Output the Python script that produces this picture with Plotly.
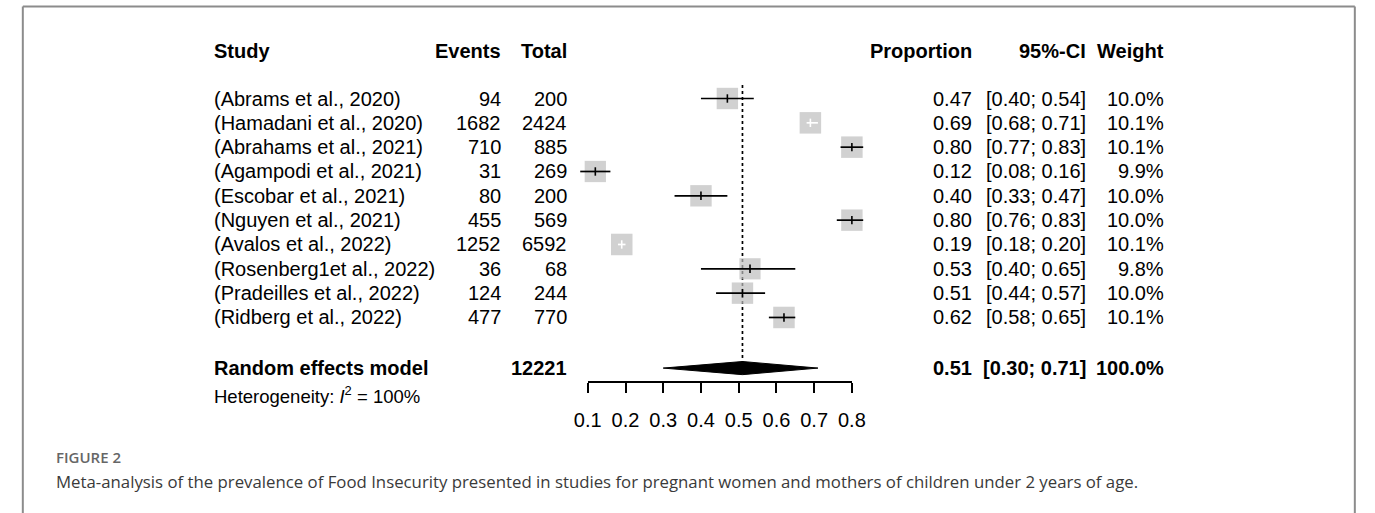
import plotly.graph_objects as go
import math

# ---------------- data ----------------
studies = ["(Abrams et al., 2020)", "(Hamadani et al., 2020)", "(Abrahams et al., 2021)",
           "(Agampodi et al., 2021)", "(Escobar et al., 2021)", "(Nguyen et al., 2021)",
           "(Avalos et al., 2022)", "(Rosenberg1et al., 2022)", "(Pradeilles et al., 2022)",
           "(Ridberg et al., 2022)"]
events = [94, 1682, 710, 31, 80, 455, 1252, 36, 124, 477]
totals = [200, 2424, 885, 269, 200, 569, 6592, 68, 244, 770]
proportion = [0.47, 0.69, 0.80, 0.12, 0.40, 0.80, 0.19, 0.53, 0.51, 0.62]
ci_low = [0.40, 0.68, 0.77, 0.08, 0.33, 0.76, 0.18, 0.40, 0.44, 0.58]
ci_high = [0.54, 0.71, 0.83, 0.16, 0.47, 0.83, 0.20, 0.65, 0.57, 0.65]
weights = [10.0, 10.1, 10.1, 9.9, 10.0, 10.0, 10.1, 9.8, 10.0, 10.1]

pooled_total = 12221
pooled_prop = 0.51
pooled_low = 0.30
pooled_high = 0.71
pooled_weight = 100.0
i2 = 100

tick_vals = [0.1, 0.2, 0.3, 0.4, 0.5, 0.6, 0.7, 0.8]
tick_text = ["0.1", "0.2", "0.3", "0.4", "0.5", "0.6", "0.7", "0.8"]

caption_label = "FIGURE 2"
caption_text = ("Meta-analysis of the prevalence of Food Insecurity presented in studies for "
                "pregnant women and mothers of children under 2 years of age.")

# ---------------- layout geometry ----------------
W, H = 1375, 513
AX_L, AX_R = 585.7, 855.3            # pixel of first / last tick
PPU = (AX_R - AX_L) / (tick_vals[-1] - tick_vals[0])
x_range = [tick_vals[0] - AX_L / PPU, tick_vals[0] + (W - AX_L) / PPU]

ROW0, ROWS = 98.5, 24.33              # pixel of first row, row spacing
y_range = [1 + (H - ROW0) / ROWS, 1 - ROW0 / ROWS]

n = len(studies)
rows = list(range(1, n + 1))
pooled_row = n + 2.08
header_row = -0.95
het_row = n + 3.19
axis_px = 381.7

FONT = "Liberation Sans, Arial, sans-serif"
FS = 20

fig = go.Figure()

# reference (dotted) line at pooled estimate
fig.add_trace(go.Scatter(x=[pooled_prop, pooled_prop], y=[0.45, pooled_row], mode="lines",
                         line=dict(color="black", width=1.7, dash="dot"),
                         hoverinfo="skip", showlegend=False))

# squares
max_w = max(weights)
sizes = [21.5 * math.sqrt(w / max_w) for w in weights]
fig.add_trace(go.Scatter(x=proportion, y=rows, mode="markers",
                         marker=dict(symbol="square", size=sizes, color="#BDBDBD",
                                     line=dict(width=0)),
                         hoverinfo="skip", showlegend=False))

# CI lines: black if wider than square, else white
for color in ["black", "white"]:
    xs, ys, px_, py_ = [], [], [], []
    for r, p, lo, hi, s in zip(rows, proportion, ci_low, ci_high, sizes):
        inside = (hi - lo) * PPU < s
        if (color == "white") != inside:
            continue
        xs += [lo, hi, None]
        ys += [r, r, None]
        px_.append(p)
        py_.append(r)
    if xs:
        fig.add_trace(go.Scatter(x=xs, y=ys, mode="lines", line=dict(color=color, width=1.7),
                                 hoverinfo="skip", showlegend=False))
        fig.add_trace(go.Scatter(x=px_, y=py_, mode="markers",
                                 marker=dict(symbol="line-ns", size=6, color=color,
                                             line=dict(color=color, width=1.6)),
                                 hoverinfo="skip", showlegend=False))

# diamond
dh = 0.27
fig.add_trace(go.Scatter(x=[pooled_low, pooled_prop, pooled_high, pooled_prop, pooled_low],
                         y=[pooled_row, pooled_row - dh, pooled_row, pooled_row + dh, pooled_row],
                         mode="lines", fill="toself", fillcolor="black",
                         line=dict(color="black", width=1),
                         hoverinfo="skip", showlegend=False))

# invisible trace for the visible x axis
fig.add_trace(go.Scatter(x=[tick_vals[0]], y=[pooled_row], xaxis="x2", yaxis="y",
                         mode="markers", marker=dict(opacity=0),
                         hoverinfo="skip", showlegend=False))

# ---------------- text columns ----------------
def px(xp):
    return xp / W

def add_text(xp, row, text, anchor, size=FS, bold=False):
    t = f"<b>{text}</b>" if bold else text
    fig.add_annotation(x=px(xp), y=row, xref="paper", yref="y", text=t, showarrow=False,
                       xanchor=anchor, yanchor="middle",
                       font=dict(family=FONT, size=size, color="black"))

COL_STUDY, COL_EV, COL_TOT = 202, 499, 567
COL_PROP, COL_CI, COL_W = 980, 1096, 1176

for txt, xp, anc in [("Study", COL_STUDY, "left"), ("Events", COL_EV, "right"),
                     ("Total", COL_TOT, "right"), ("Proportion", COL_PROP, "right"),
                     ("95%-CI", COL_CI, "right"), ("Weight", COL_W, "right")]:
    add_text(xp, header_row, txt, anc, bold=True)

for r, s, e, t, p, lo, hi, w in zip(rows, studies, events, totals, proportion, ci_low, ci_high, weights):
    add_text(COL_STUDY, r, s, "left")
    add_text(COL_EV, r, str(e), "right")
    add_text(COL_TOT, r, str(t), "right")
    add_text(COL_PROP, r, f"{p:.2f}", "right")
    add_text(COL_CI, r, f"[{lo:.2f}; {hi:.2f}]", "right")
    add_text(COL_W, r, f"{w:.1f}%", "right")

add_text(COL_STUDY, pooled_row, "Random effects model", "left", bold=True)
add_text(COL_TOT, pooled_row, str(pooled_total), "right", bold=True)
add_text(COL_PROP, pooled_row, f"{pooled_prop:.2f}", "right", bold=True)
add_text(COL_CI, pooled_row, f"[{pooled_low:.2f}; {pooled_high:.2f}]", "right", bold=True)
add_text(COL_W, pooled_row, f"{pooled_weight:.1f}%", "right", bold=True)
add_text(COL_STUDY, het_row, f"Heterogeneity: <i>I</i><sup>2</sup> = {i2}%", "left", size=18.5)

# caption
fig.add_annotation(x=px(41), y=1 - 457 / H, xref="paper", yref="paper", text=caption_label,
                   showarrow=False, xanchor="left", yanchor="middle",
                   font=dict(family="Open Sans, sans-serif", size=15, color="#666666", weight=600))
fig.add_annotation(x=px(41), y=1 - 481 / H, xref="paper", yref="paper", text=caption_text,
                   showarrow=False, xanchor="left", yanchor="middle",
                   font=dict(family="Open Sans, sans-serif", size=16.8, color="#3a3a3a"))

# frame
FR = "#8c8c8c"
fig.add_shape(type="line", xref="paper", yref="paper", x0=px(9), x1=px(9), y0=0, y1=1 - 6.5 / H,
              line=dict(color=FR, width=2))
fig.add_shape(type="line", xref="paper", yref="paper", x0=px(9), x1=px(1368.7), y0=1 - 6.5 / H,
              y1=1 - 6.5 / H, line=dict(color=FR, width=2))
fig.add_shape(type="line", xref="paper", yref="paper", x0=px(1368.7), x1=px(1368.7), y0=0,
              y1=1 - 6.5 / H, line=dict(color=FR, width=2))

fig.update_layout(
    width=W, height=H, margin=dict(l=0, r=0, t=0, b=0),
    paper_bgcolor="white", plot_bgcolor="rgba(0,0,0,0)",
    xaxis=dict(range=x_range, domain=[0, 1], visible=False),
    yaxis=dict(range=y_range, domain=[0, 1], visible=False),
    xaxis2=dict(range=[tick_vals[0], tick_vals[-1]], domain=[AX_L / W, AX_R / W],
                anchor="free", position=1 - axis_px / H, side="bottom",
                showline=True, linecolor="black", linewidth=1.6,
                ticks="outside", ticklen=10, tickwidth=1.6, tickcolor="black",
                ticklabelstandoff=10,
                tickvals=tick_vals, ticktext=tick_text, showgrid=False, zeroline=False,
                tickfont=dict(family=FONT, size=FS, color="black")),
    showlegend=False,
)

fig.write_html("out.html", config={"displayModeBar": False},
               post_script="document.body.style.margin='0';document.body.style.overflow='hidden';")
